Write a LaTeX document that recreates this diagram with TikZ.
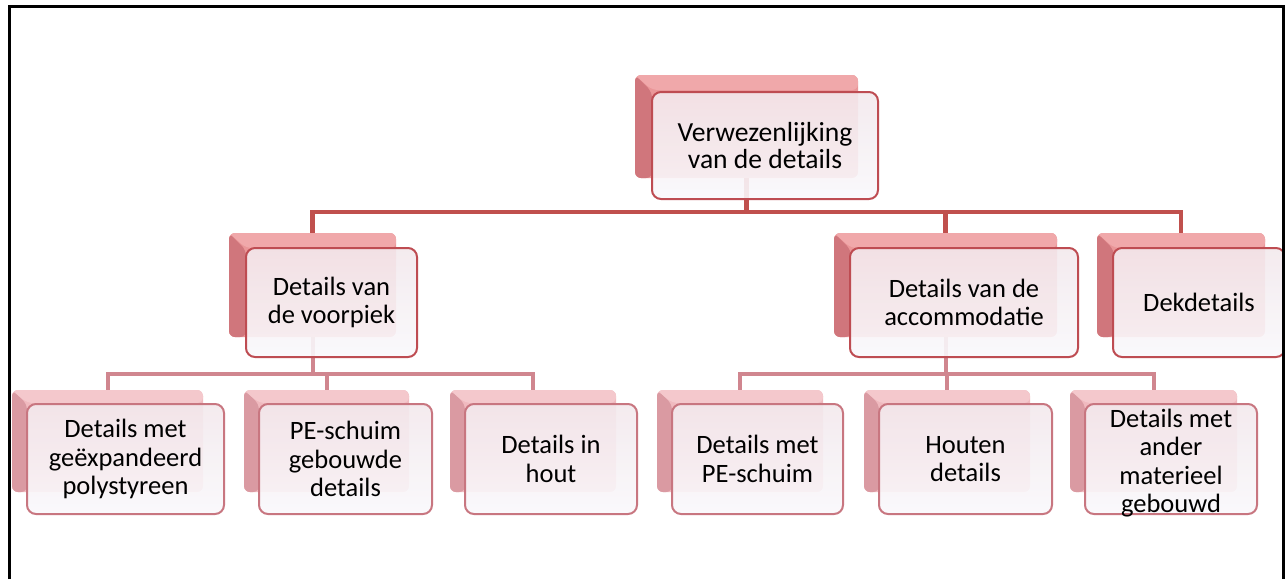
\documentclass[tikz,border=0pt]{standalone}
\usepackage{fontspec}
\setmainfont{Carlito}
% palette
\definecolor{lineA}{RGB}{192,80,77}
\definecolor{lineB}{RGB}{208,134,143}
\definecolor{backAfill}{RGB}{234,150,152}
\definecolor{backAside}{RGB}{208,118,124}
\definecolor{backAtop}{RGB}{240,168,170}
\definecolor{backBfill}{RGB}{240,186,191}
\definecolor{backBside}{RGB}{218,154,162}
\definecolor{backBtop}{RGB}{244,200,204}
\definecolor{frontTop}{RGB}{243,233,237}
\definecolor{frontBot}{RGB}{250,249,252}
\definecolor{edgeA}{RGB}{190,76,82}
\definecolor{edgeB}{RGB}{200,118,128}
\begin{document}
\begin{tikzpicture}[x=1pt,y=-1pt,
  line join=miter,
  % connector styles
  conA/.style={draw=lineA, line width=4.5pt},
  conB/.style={draw=lineB, line width=4pt},
  % shadow box behind each entry
  backbase/.style={rectangle, rounded corners=6pt, inner sep=0pt, draw=none},
  backA/.style={backbase, fill=backAfill,
    path picture={\fill[backAside]
      (path picture bounding box.north west) -- ([shift={(17,17)}]path picture bounding box.north west)
      -- ([shift={(17,0)}]path picture bounding box.south west) -- (path picture bounding box.south west) -- cycle;
      \fill[backAtop]
      (path picture bounding box.north west) -- (path picture bounding box.north east)
      -- ([shift={(0,15)}]path picture bounding box.north east) -- ([shift={(17,15)}]path picture bounding box.north west) -- cycle;}},
  backB/.style={backbase, fill=backBfill,
    path picture={\fill[backBside]
      (path picture bounding box.north west) -- ([shift={(15,14)}]path picture bounding box.north west)
      -- ([shift={(15,0)}]path picture bounding box.south west) -- (path picture bounding box.south west) -- cycle;
      \fill[backBtop]
      (path picture bounding box.north west) -- (path picture bounding box.north east)
      -- ([shift={(0,13)}]path picture bounding box.north east) -- ([shift={(15,13)}]path picture bounding box.north west) -- cycle;}},
  % front text boxes
  frontbase/.style={rectangle, rounded corners=9pt, inner sep=0pt, align=center,
    line width=2pt, fill opacity=0.9, text opacity=1, draw opacity=1,
    top color=frontTop, bottom color=frontBot},
  frontA/.style={frontbase, draw=edgeA},
  fontB/.style={font=\fontsize{26.5}{28.5}\selectfont},
  frontB/.style={frontbase, draw=edgeB, fontB},
]
\useasboundingbox (0,0) rectangle (1285,579);
\fill[white] (0,0) rectangle (1285,579);

% bus lines
\coordinate (busA) at (0,212);
\coordinate (busB) at (0,374);

% shadow boxes
\node[backA, minimum width=223pt, minimum height=103pt] (rootb) at (746.5,126.5) {};
\node[backA, minimum width=167pt, minimum height=104pt] (voorb) at (312.5,285) {};
\node[backA, minimum width=223pt, minimum height=104pt] (accb) at (945.5,285) {};
\node[backA, minimum width=168pt, minimum height=104pt] (dekb) at (1181,285) {};

\node[backB, minimum width=191pt, minimum height=102pt] (expb) at (107.5,441) {};
\node[backB, minimum width=165pt, minimum height=102pt] (pegb) at (326.5,441) {};
\node[backB, minimum width=166pt, minimum height=102pt] (houtb) at (533,441) {};
\node[backB, minimum width=166pt, minimum height=102pt] (pemb) at (740,441) {};
\node[backB, minimum width=166pt, minimum height=102pt] (houtenb) at (947,441) {};
\node[backB, minimum width=167pt, minimum height=102pt] (anderb) at (1153.5,441) {};

% connectors
\draw[conA] (rootb.south) -- (rootb.south |- busA);
\draw[conA] (voorb.north) |- (rootb.south |- busA) -| (dekb.north);
\draw[conA] (accb.north) -- (accb.north |- busA);

\draw[conB] (voorb.south) -- (voorb.south |- busB);
\draw[conB] (expb.north) |- (voorb.south |- busB) -| (houtb.north);
\draw[conB] (pegb.north) -- (pegb.north |- busB);

\draw[conB] (accb.south) -- (accb.south |- busB);
\draw[conB] (pemb.north) |- (accb.south |- busB) -| (anderb.north);
\draw[conB] (houtenb.north) -- (houtenb.north |- busB);

% front boxes with labels
\node[frontA, font=\fontsize{27.6}{27.5}\selectfont, minimum width=226pt, minimum height=107pt] (root) at (765,145.5) {Verwezenlijking\\van de details};
\node[frontA, font=\fontsize{26.5}{28}\selectfont, minimum width=171pt, minimum height=109pt] (voor) at (331.5,302.5) {Details van\\de voorpiek};
\node[frontA, font=\fontsize{26.5}{28}\selectfont, minimum width=228pt, minimum height=109pt] (acc) at (964,302.5) {Details van de\\accommodatie};
\node[frontA, font=\fontsize{26.5}{28}\selectfont, minimum width=172pt, minimum height=109pt] (dek) at (1199,302.5) {Dekdetails};

\node[frontB, minimum width=197pt, minimum height=110pt] (exp) at (125.5,459) {Details met\\geëxpandeerd\\polystyreen};
\node[frontB, minimum width=173pt, minimum height=110pt] (peg) at (345.5,459) {PE-schuim\\gebouwde\\details};
\node[frontB, minimum width=172pt, minimum height=110pt] (hout) at (551,459) {Details in\\hout};
\node[frontB, minimum width=171pt, minimum height=110pt] (pem) at (757.5,459) {Details met\\PE-schuim};
\node[frontB, minimum width=173pt, minimum height=110pt] (houten) at (965.5,459) {Houten\\details};
% this label runs past its box, so the box and its text are set separately
\node[frontB, minimum width=172pt, minimum height=110pt] (ander) at (1171,459) {};
\node[fontB, align=center, inner sep=0pt] (andertext) at ([yshift=-4pt]ander.center) {Details met\\ander\\materieel\\gebouwd};

% outer frame
\draw[black, line width=3pt] (9,579) -- (9,6) -- (1283.5,6) -- (1283.5,579);
\end{tikzpicture}
\end{document}
